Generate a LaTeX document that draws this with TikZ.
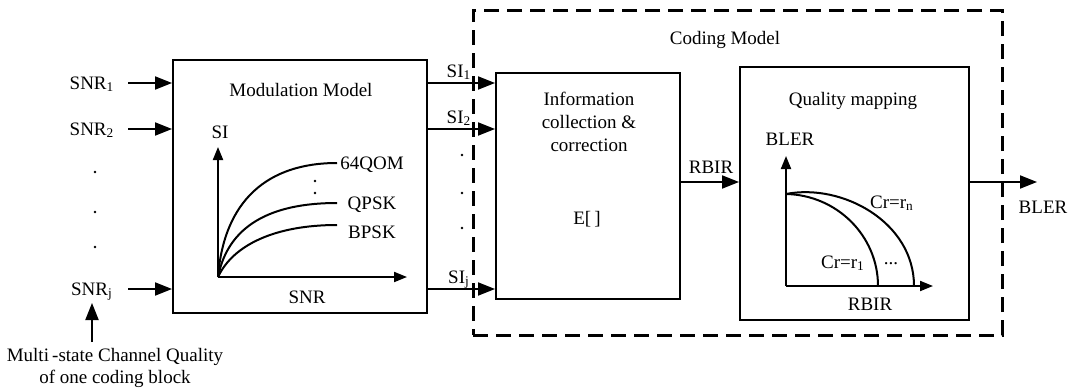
\documentclass[tikz,border=0pt]{standalone}
\usepackage{fontspec}
\setmainfont{Liberation Serif}
\usetikzlibrary{arrows.meta}
\begin{document}
\begin{tikzpicture}[x=0.5pt,y=-0.5pt,
  font=\fontsize{9.5}{11}\selectfont,
  blk/.style={draw, line width=1pt, inner sep=0pt},
  arr/.style={line width=1pt, -{Triangle[length=8.5pt,width=6.5pt]}},
  axis/.style={line width=1pt, -{Triangle[length=6.5pt,width=5pt]}},
  crv/.style={line width=1pt},
  lbl/.style={inner sep=0pt, text depth=0pt},
  dotmark/.style={circle, fill, inner sep=0pt, minimum size=1.3pt},
  grp/.style={draw, line width=1.5pt, dash pattern=on 7.5pt off 4pt, inner sep=0pt}]
\useasboundingbox (0,0) rectangle (1069,391);

% ---------- coding model frame ----------
\node[grp, minimum width=264.5pt, minimum height=162.5pt] (coding) at (737.5,172.5) {};
\node[lbl] (codingt) at (725,38) {Coding Model};

% ---------- blocks ----------
\node[blk, minimum width=127pt, minimum height=126.5pt] (mod) at (300,186.5) {};
\node[lbl] (modt) at (301,90) {Modulation Model};

\node[blk, minimum width=92pt, minimum height=113pt] (info) at (588,186) {};
\node[inner sep=0pt, align=center, font=\fontsize{9.5}{11.5}\selectfont] (infot) at (589,121.5)
  {Information\\collection \&\\correction};
\node[lbl] (expect) at (587,218) {E[\,]};

\node[blk, minimum width=114.5pt, minimum height=126.5pt] (qual) at (854.5,193.5) {};
\node[lbl] (qualt) at (853,99) {Quality mapping};

% ---------- inputs ----------
\node[lbl] (s1) at (92,83) {SNR\textsubscript{1}};
\node[lbl] (s2) at (92,129) {SNR\textsubscript{2}};
\node[lbl] (sj) at (92,289) {SNR\textsubscript{j}};
\node[dotmark] (sd1) at (95,172) {};
\node[dotmark] (sd2) at (95,212) {};
\node[dotmark] (sd3) at (95,247) {};
\coordinate (s1a) at (128,83);
\coordinate (s2a) at (128,129);
\coordinate (sja) at (128,289);
\draw[arr] (s1a) -- (s1a -| mod.west);
\draw[arr] (s2a) -- (s2a -| mod.west);
\draw[arr] (sja) -- (sja -| mod.west);

\node[inner sep=0pt, align=center] (mcq) at (115,367.5)
  {Multi\,-state Channel Quality\\of one coding block};
\coordinate (mcqa) at (92,342);
\coordinate (mcqb) at (92,303);
\draw[arr] (mcqa) -- (mcqb);

% ---------- modulation curves ----------
\coordinate (mO) at (218,277);
\coordinate (mY) at (218,147);
\coordinate (mX) at (407,277);
\draw[axis] (mO) -- (mY);
\draw[axis] (mO) -- (mX);
\node[lbl] (mYl) at (220,132) {SI};
\node[lbl] (mXl) at (307,297) {SNR};
\coordinate (c64) at (337,163);
\coordinate (cq) at (337,203);
\coordinate (cb) at (337,225);
\draw[crv] (mO) .. controls (224,200) and (268,163) .. (c64);
\draw[crv] (mO) .. controls (228,226) and (270,203) .. (cq);
\draw[crv] (mO) .. controls (233,245) and (275,225) .. (cb);
\node[lbl] (l64) at (372,163) {64QOM};
\node[lbl] (lq) at (372,203) {QPSK};
\node[lbl] (lb) at (372,232) {BPSK};
\node[dotmark] (md1) at (315,181) {};
\node[dotmark] (md2) at (315,193) {};

% ---------- SI outputs ----------
\coordinate (y1) at (0,83);
\coordinate (y2) at (0,129);
\coordinate (yj) at (0,289);
\draw[arr] (mod.east |- y1) -- (info.west |- y1);
\draw[arr] (mod.east |- y2) -- (info.west |- y2);
\draw[arr] (mod.east |- yj) -- (info.west |- yj);
\node[lbl] (si1) at (459,71) {SI\textsubscript{1}};
\node[lbl] (si2) at (459,117) {SI\textsubscript{2}};
\node[lbl] (sij) at (459,277) {SI\textsubscript{j}};
\node[dotmark] (id1) at (462,155) {};
\node[dotmark] (id2) at (462,193) {};
\node[dotmark] (id3) at (462,228) {};

% ---------- RBIR ----------
\coordinate (yr) at (0,182);
\draw[arr] (info.east |- yr) -- (qual.west |- yr);
\node[lbl] (rbir) at (711,167) {RBIR};

% ---------- quality mapping curves ----------
\coordinate (qO) at (786,286);
\coordinate (qY) at (786,156);
\coordinate (qX) at (933,286);
\draw[axis] (qO) -- (qY);
\draw[axis] (qO) -- (qX);
\node[lbl] (qYl) at (790,139) {BLER};
\node[lbl] (qXl) at (870,304) {RBIR};
\coordinate (qs) at (786,194);
\coordinate (qe1) at (878,286);
\coordinate (qen) at (914,286);
\draw[crv] (qs) .. controls (837,195) and (878,236) .. (qe1);
\draw[crv] (qs) .. controls (842,183) and (914,222) .. (qen);
\node[lbl] (crn) at (892,202) {Cr=r\textsubscript{n}};
\node[lbl] (cr1) at (843,262) {Cr=r\textsubscript{1}};
\node[lbl] (crd) at (891,264) {...};

% ---------- output ----------
\coordinate (yo) at (0,182);
\coordinate (outend) at (1037,182);
\draw[arr] (qual.east |- yo) -- (outend);
\node[lbl] (bler) at (1043,207) {BLER};
\end{tikzpicture}
\end{document}
